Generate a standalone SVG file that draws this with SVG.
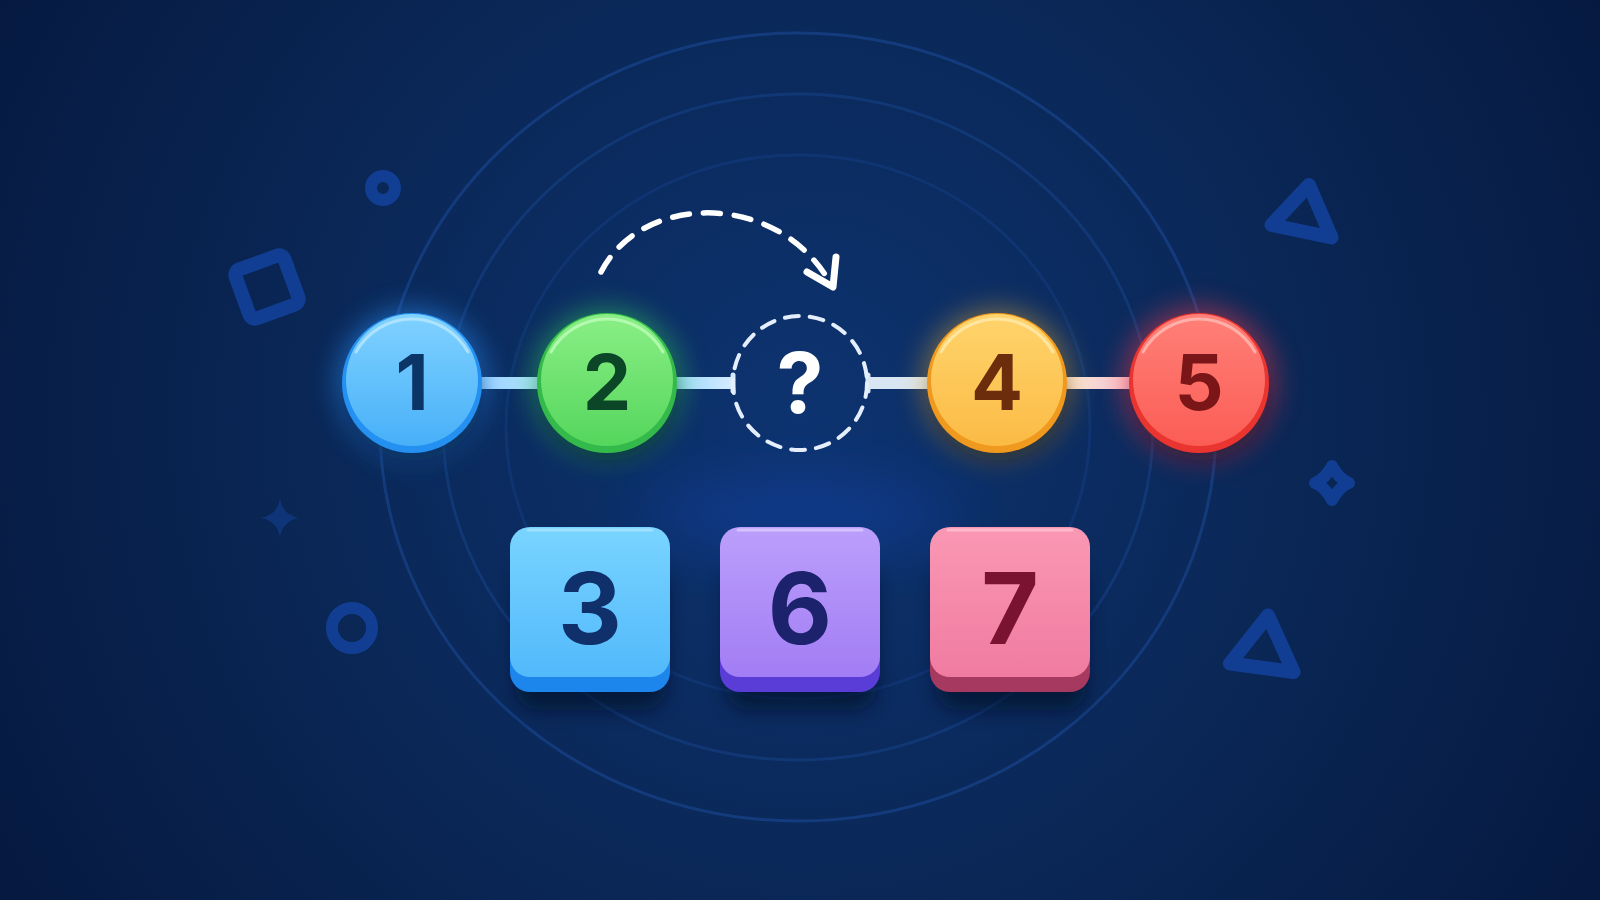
<svg xmlns="http://www.w3.org/2000/svg" width="1600" height="900" viewBox="0 0 1600 900">
<defs>
<style>
.num{font-family:Inter,"Liberation Sans",sans-serif;font-weight:700;text-anchor:middle}
.cnum{font-size:77px}
.snum{font-size:99px}
.deco{fill:none;stroke:#13439e;stroke-linejoin:round;stroke-linecap:round;opacity:.85}
.ring{fill:none;stroke:#1b4a99;stroke-width:3}
.bar{stroke-width:12;stroke-linecap:butt}
.cap{stroke-width:5;stroke-linecap:round}
.hl{fill:none;stroke-width:3;stroke-linecap:round}
</style>
<radialGradient id="bg" cx="800" cy="420" r="900" gradientUnits="userSpaceOnUse">
<stop offset="0" stop-color="#0d3370"/>
<stop offset="0.55" stop-color="#0a2756"/>
<stop offset="1" stop-color="#061a41"/>
</radialGradient>
<filter id="glow" x="-60%" y="-60%" width="220%" height="220%"><feGaussianBlur stdDeviation="14"/></filter>
<filter id="soft" x="-60%" y="-60%" width="220%" height="220%"><feGaussianBlur stdDeviation="9"/></filter>
<filter id="big" x="-60%" y="-60%" width="220%" height="220%"><feGaussianBlur stdDeviation="30"/></filter>
<filter id="thin" x="-60%" y="-60%" width="220%" height="220%"><feGaussianBlur stdDeviation="4"/></filter>
<linearGradient id="g1" x1="0" y1="0" x2="0" y2="1"><stop offset="0" stop-color="#80d2ff"/><stop offset="1" stop-color="#48b0f8"/></linearGradient>
<linearGradient id="g2" x1="0" y1="0" x2="0" y2="1"><stop offset="0" stop-color="#8aef86"/><stop offset="1" stop-color="#55d65c"/></linearGradient>
<linearGradient id="g4" x1="0" y1="0" x2="0" y2="1"><stop offset="0" stop-color="#ffd46c"/><stop offset="1" stop-color="#fbbb45"/></linearGradient>
<linearGradient id="g5" x1="0" y1="0" x2="0" y2="1"><stop offset="0" stop-color="#ff8078"/><stop offset="1" stop-color="#fb5d55"/></linearGradient>
<linearGradient id="s3" x1="0" y1="0" x2="0" y2="1"><stop offset="0" stop-color="#79d4ff"/><stop offset="1" stop-color="#52b9fb"/></linearGradient>
<linearGradient id="s6" x1="0" y1="0" x2="0" y2="1"><stop offset="0" stop-color="#bb9ffb"/><stop offset="1" stop-color="#a27df4"/></linearGradient>
<linearGradient id="s7" x1="0" y1="0" x2="0" y2="1"><stop offset="0" stop-color="#fa98b4"/><stop offset="1" stop-color="#f07ba1"/></linearGradient>
<linearGradient id="b2" x1="677" y1="0" x2="733" y2="0" gradientUnits="userSpaceOnUse"><stop offset="0" stop-color="#9fd8ff"/><stop offset="1" stop-color="#d4ecff"/></linearGradient>
<linearGradient id="b4" x1="1067" y1="0" x2="1129" y2="0" gradientUnits="userSpaceOnUse"><stop offset="0" stop-color="#f6e6da"/><stop offset="1" stop-color="#f6c8d2"/></linearGradient>
</defs>

<rect width="1600" height="900" fill="url(#bg)"/>

<g id="rings">
<ellipse class="ring" cx="798" cy="427" rx="418" ry="394" opacity="0.55"/>
<ellipse class="ring" cx="798" cy="427" rx="355" ry="333" opacity="0.4"/>
<ellipse class="ring" cx="798" cy="427" rx="292" ry="272" opacity="0.3"/>
</g>

<g id="decorations">
<circle class="deco" cx="383" cy="188" r="12" stroke-width="12"/>
<rect class="deco" x="-26" y="-26" width="52" height="52" rx="6" stroke-width="14" transform="translate(267,287) rotate(-20)"/>
<path d="M280,499 Q283,515 299,518 Q283,521 280,537 Q277,521 261,518 Q277,515 280,499 Z" fill="#0f3579"/>
<circle class="deco" cx="352" cy="628" r="20" stroke-width="12"/>
<polygon class="deco" points="1309,185 1331.5,237.5 1271.5,225" stroke-width="14"/>
<path class="deco" d="M1332,466 Q1339,479 1349,483 Q1339,487 1332,500 Q1325,487 1315,483 Q1325,479 1332,466 Z" stroke-width="12"/>
<polygon class="deco" points="1268,615.5 1293.5,672 1230,663.5" stroke-width="14"/>
</g>

<ellipse cx="800" cy="515" rx="160" ry="36" fill="#1f5fff" opacity="0.22" filter="url(#big)"/>

<g id="connectors">
<g filter="url(#thin)" opacity="0.6">
<line x1="482" y1="383" x2="538" y2="383" stroke="#4fb4ff" stroke-width="18"/>
<line x1="677" y1="383" x2="733" y2="383" stroke="#5fbfff" stroke-width="18"/>
<line x1="868" y1="383" x2="927" y2="383" stroke="#9fb8da" stroke-width="16"/>
<line x1="1067" y1="383" x2="1129" y2="383" stroke="#f5a6b0" stroke-width="16"/>
</g>
<line class="bar" x1="478" y1="383" x2="542" y2="383" stroke="#aadcff"/>
<line class="bar" x1="673" y1="383" x2="733" y2="383" stroke="url(#b2)"/>
<line class="cap" x1="733" y1="375" x2="733" y2="391" stroke="#d4ebff"/>
<line class="bar" x1="868" y1="383" x2="931" y2="383" stroke="#d8e5f3"/>
<line class="cap" x1="868" y1="375" x2="868" y2="391" stroke="#d8e5f3"/>
<line class="bar" x1="1063" y1="383" x2="1133" y2="383" stroke="url(#b4)"/>
<path d="M601,272 C640,195 770,190 826,276" fill="none" stroke="#ffffff" stroke-width="5.5" stroke-linecap="round" stroke-dasharray="17 14"/>
<path d="M807,272 L833,287 L836,257" fill="none" stroke="#ffffff" stroke-width="7" stroke-linecap="round" stroke-linejoin="round"/>
</g>

<g id="node-1">
<circle cx="412" cy="383" r="74" fill="#2a95ff" opacity="0.55" filter="url(#glow)"/>
<ellipse cx="414" cy="398" rx="66" ry="62" fill="#020c24" opacity="0.5" filter="url(#soft)"/>
<circle cx="412" cy="383" r="70" fill="#2490f2"/>
<circle cx="412" cy="380" r="66" fill="url(#g1)"/>
<path class="hl" d="M356,352 A64,64 0 0 1 468,352" stroke="#c2ebff" opacity="0.7"/>
<text class="num cnum" x="412" y="410" fill="#0c3567">1</text>
</g>

<g id="node-2">
<circle cx="607" cy="383" r="74" fill="#35d45a" opacity="0.5" filter="url(#glow)"/>
<ellipse cx="609" cy="398" rx="66" ry="62" fill="#020c24" opacity="0.5" filter="url(#soft)"/>
<circle cx="607" cy="383" r="70" fill="#34ba4b"/>
<circle cx="607" cy="380" r="66" fill="url(#g2)"/>
<path class="hl" d="M551,352 A64,64 0 0 1 663,352" stroke="#c6ffc2" opacity="0.7"/>
<text class="num cnum" x="607" y="410" fill="#0b4626">2</text>
</g>

<g id="node-q">
<circle cx="800" cy="383" r="67" fill="none" stroke="#e4eefc" stroke-width="4" stroke-linecap="round" stroke-dasharray="14 11"/>
<text class="num" x="800" y="413" font-size="84" font-weight="800" fill="#ffffff">?</text>
</g>

<g id="node-4">
<circle cx="997" cy="383" r="74" fill="#f5b42c" opacity="0.45" filter="url(#glow)"/>
<ellipse cx="999" cy="398" rx="66" ry="62" fill="#020c24" opacity="0.5" filter="url(#soft)"/>
<circle cx="997" cy="383" r="70" fill="#f0991f"/>
<circle cx="997" cy="380" r="66" fill="url(#g4)"/>
<path class="hl" d="M941,352 A64,64 0 0 1 1053,352" stroke="#ffeeb8" opacity="0.7"/>
<text class="num cnum" x="997" y="410" fill="#6b2d0c">4</text>
</g>

<g id="node-5">
<circle cx="1199" cy="383" r="76" fill="#ff3a4a" opacity="0.5" filter="url(#glow)"/>
<ellipse cx="1201" cy="398" rx="66" ry="62" fill="#020c24" opacity="0.5" filter="url(#soft)"/>
<circle cx="1199" cy="383" r="70" fill="#e9342f"/>
<circle cx="1199" cy="380" r="66" fill="url(#g5)"/>
<path class="hl" d="M1143,352 A64,64 0 0 1 1255,352" stroke="#ffc4bf" opacity="0.7"/>
<text class="num cnum" x="1199" y="410" fill="#7a1618">5</text>
</g>

<g id="node-3">
<rect x="516" y="565" width="150" height="145" rx="22" fill="#020b22" opacity="0.6" filter="url(#soft)"/>
<rect x="510" y="540" width="160" height="152" rx="20" fill="#1d86ec"/>
<rect x="510" y="527" width="160" height="150" rx="20" fill="url(#s3)"/>
<path class="hl" d="M528,530 L652,530" stroke="#a8e4ff" opacity="0.8"/>
<text class="num snum" x="590" y="644" fill="#10306c">3</text>
</g>

<g id="node-6">
<rect x="726" y="565" width="150" height="145" rx="22" fill="#020b22" opacity="0.6" filter="url(#soft)"/>
<rect x="720" y="540" width="160" height="152" rx="20" fill="#5a3dd6"/>
<rect x="720" y="527" width="160" height="150" rx="20" fill="url(#s6)"/>
<path class="hl" d="M738,530 L862,530" stroke="#dcc9ff" opacity="0.8"/>
<text class="num snum" x="800" y="644" fill="#1c226c">6</text>
</g>

<g id="node-7">
<rect x="936" y="565" width="150" height="145" rx="22" fill="#020b22" opacity="0.6" filter="url(#soft)"/>
<rect x="930" y="540" width="160" height="152" rx="20" fill="#a6395f"/>
<rect x="930" y="527" width="160" height="150" rx="20" fill="url(#s7)"/>
<path class="hl" d="M948,530 L1072,530" stroke="#ffc2d4" opacity="0.8"/>
<text class="num snum" x="1010" y="644" fill="#7a1232">7</text>
</g>
</svg>
